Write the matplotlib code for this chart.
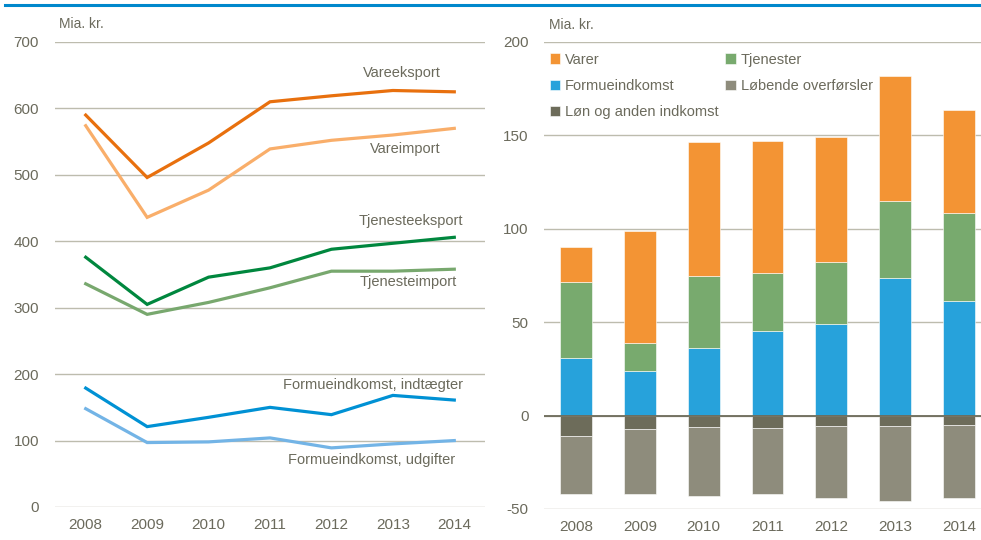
import matplotlib
matplotlib.use("Agg")
import matplotlib.pyplot as plt
from matplotlib.lines import Line2D
import numpy as np

plt.rcParams['font.family'] = ['Liberation Sans', 'DejaVu Sans']
plt.rcParams['axes.unicode_minus'] = False

years = ['2008', '2009', '2010', '2011', '2012', '2013', '2014']

# left panel: lines (Mia. kr.)
vareeksport = [590, 496, 548, 610, 619, 627, 625]
vareimport = [574, 436, 477, 539, 552, 560, 570]
tjenesteeksport = [376, 305, 346, 360, 388, 397, 406]
tjenesteimport = [336, 290, 308, 330, 355, 355, 358]
formue_indt = [179, 121, 135, 150, 139, 168, 161]
formue_udg = [148, 97, 98, 104, 89, 95, 100]

# right panel: stacked bars (Mia. kr.)
varer = [18.5, 60.2, 71.7, 70.7, 66.5, 66.5, 54.9]
tjenester = [40.5, 14.7, 38.2, 31.1, 33.6, 41.6, 47.5]
formueindkomst = [31.1, 23.9, 36.3, 45.4, 48.8, 73.5, 61.1]
lon_anden = [-11.1, -7.0, -6.3, -6.8, -5.6, -5.6, -5.2]
lobende = [-30.9, -34.8, -37.0, -35.4, -38.6, -40.2, -39.0]

txt = '#6b6a5c'
grid = '#bdbcae'
fs = 10.5

fig = plt.figure(figsize=(9.81, 5.4), dpi=100)
W, H = 981, 540

def px_axes(x0, y0, x1, y1):
    return fig.add_axes([x0 / W, 1 - y1 / H, (x1 - x0) / W, (y1 - y0) / H])

fig.add_artist(Line2D([5 / W, 1], [1 - 5 / H, 1 - 5 / H], color='#0088cc', lw=2.2))

# ---- left chart
ax1 = px_axes(55, 42, 485, 507)
x = np.arange(len(years))
series = [
    (vareeksport, '#e8700e', 'Vareeksport', 5.15, 653),
    (vareimport, '#f9ae6a', 'Vareimport', 5.2, 539),
    (tjenesteeksport, '#00873e', 'Tjenesteeksport', 5.3, 430),
    (tjenesteimport, '#78a86e', 'Tjenesteimport', 5.25, 339),
    (formue_indt, '#0091d4', 'Formueindkomst, indtægter', 4.67, 184),
    (formue_udg, '#73b4e6', 'Formueindkomst, udgifter', 4.65, 71),
]
for vals, col, name, tx, ty in series:
    ax1.plot(x, vals, color=col, lw=2.3, solid_joinstyle='miter', zorder=3)
    ax1.text(tx, ty, name, color=txt, fontsize=fs, ha='center', va='center')
ax1.set_ylim(0, 700)
ax1.set_xlim(-0.5, 6.5)
ax1.set_yticks(range(0, 701, 100))
ax1.set_xticks(x)
ax1.set_xticklabels(years)
ax1.grid(axis='y', color=grid, lw=1)
ax1.set_axisbelow(True)
for s in ax1.spines.values():
    s.set_visible(False)
ax1.tick_params(length=0, colors=txt, labelsize=11, pad=8)
ax1.tick_params(axis='y', pad=11.5)
fig.text(59 / W, 1 - 24 / H, 'Mia. kr.', color=txt, fontsize=10, va='center')

# ---- right chart
ax2 = px_axes(544, 42, 981, 509)
bw = 0.5
c_var, c_tj, c_fo, c_lo, c_ln = '#f39434', '#78aa6e', '#27a2db', '#8e8c7c', '#6d6c5a'
b_fo = ax2.bar(x, formueindkomst, bw, color=c_fo, edgecolor='white', lw=0.4)
b_tj = ax2.bar(x, tjenester, bw, bottom=formueindkomst, color=c_tj, edgecolor='white', lw=0.4)
base = np.array(formueindkomst) + np.array(tjenester)
b_va = ax2.bar(x, varer, bw, bottom=base, color=c_var, edgecolor='white', lw=0.4)
b_ln = ax2.bar(x, lon_anden, bw, color=c_ln, edgecolor='white', lw=0.4)
b_lo = ax2.bar(x, lobende, bw, bottom=lon_anden, color=c_lo, edgecolor='white', lw=0.4)
ax2.axhline(0, color='#6d6b5a', lw=1.3, zorder=3)
ax2.set_ylim(-50, 200)
ax2.set_xlim(-0.5, 6.5 - 10 / 64)
ax2.set_yticks(range(-50, 201, 50))
ax2.set_xticks(x)
ax2.set_xticklabels(years)
ax2.grid(axis='y', color=grid, lw=1)
ax2.set_axisbelow(True)
for s in ax2.spines.values():
    s.set_visible(False)
ax2.tick_params(length=0, colors=txt, labelsize=11, pad=8)
ax2.tick_params(axis='y', pad=11)
fig.text(549 / W, 1 - 25 / H, 'Mia. kr.', color=txt, fontsize=10, va='center')

leg = ax2.legend([b_va, b_fo, b_ln, b_tj, b_lo],
                 ['Varer', 'Formueindkomst', 'Løn og anden indkomst', 'Tjenester', 'Løbende overførsler'],
                 ncol=2, loc='upper left', bbox_to_anchor=(0.0, 0.99), frameon=False,
                 fontsize=fs, handlelength=0.7, handleheight=0.7, handletextpad=0.35,
                 columnspacing=0.45, labelspacing=0.85, labelcolor=txt, borderaxespad=0)

fig.savefig('out.png', dpi=100)
